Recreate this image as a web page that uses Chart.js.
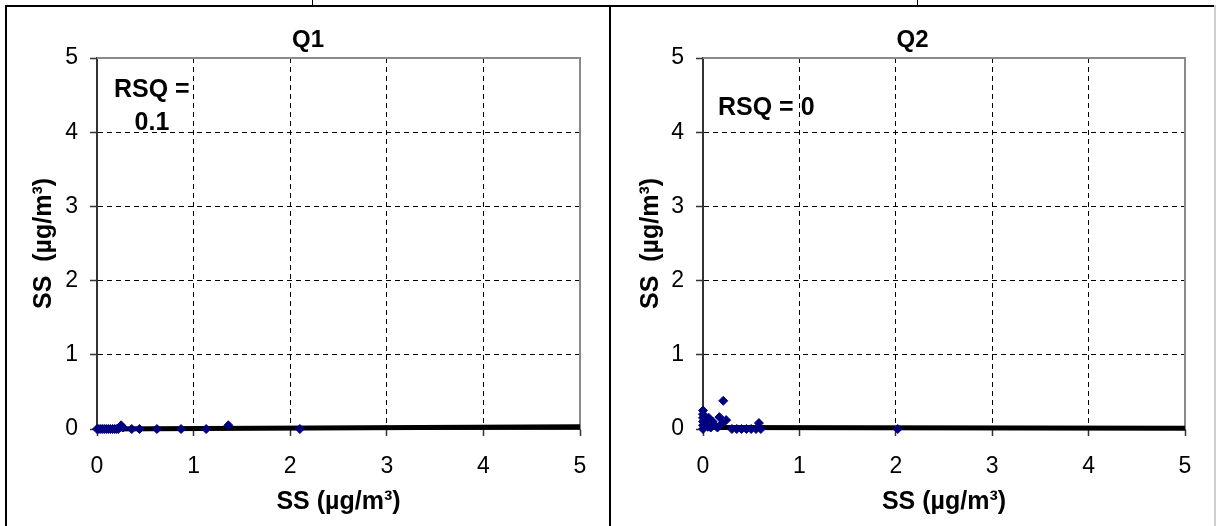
<!DOCTYPE html>
<html><head><meta charset="utf-8">
<script src="https://cdn.jsdelivr.net/npm/chart.js@4/dist/chart.umd.min.js"></script>
<style>
html,body{margin:0;padding:0;background:#fff;width:1216px;height:526px;overflow:hidden;position:relative}
.ln{position:absolute;background:#000}
canvas{position:absolute}
</style></head><body>
<div class="ln" style="left:5px;top:5px;width:1211px;height:2px"></div>
<div class="ln" style="left:5px;top:5px;width:2px;height:521px"></div>
<div class="ln" style="left:609px;top:5px;width:2px;height:521px"></div>
<div class="ln" style="left:1214px;top:5px;width:2px;height:521px;background:#cfcfcf"></div>
<div class="ln" style="left:312px;top:0px;width:1px;height:6px"></div>
<div class="ln" style="left:917px;top:0px;width:1px;height:6px"></div>
<canvas id="c1" width="602" height="519" style="left:7px;top:7px"></canvas>
<canvas id="c2" width="603" height="519" style="left:611px;top:7px"></canvas>
<script>
// ---- data ----
const tickValues = [0, 1, 2, 3, 4, 5];
const panelTitles = ['Q1', 'Q2'];
const xAxisTitle = 'SS (µg/m³)';
const yAxisTitle = 'SS  (µg/m³)';
const rsqQ1 = ['RSQ =', '0.1'];
const rsqQ2 = ['RSQ = 0'];

const q1X = [0, 0.02, 0.04, 0.06, 0.08, 0.1, 0.12, 0.14, 0.16, 0.18, 0.2, 0.22, 0.25, 0.27, 0.36, 0.44, 0.62, 0.87, 1.13, 1.36, 2.10];
const q1Y = [0, 0, 0, 0, 0, 0, 0, 0, 0, 0, 0, 0, 0.05, 0.02, 0, 0, 0, 0, 0, 0.05, 0];
const q1TrendX = [0, 5];
const q1TrendY = [0, 0.03];

const q2X = [0, 0, 0, 0, 0, 0, 0.02, 0.03, 0.05, 0.06, 0.08, 0.1, 0.12, 0.15, 0.17, 0.2, 0.21, 0.24, 0.3, 0.35, 0.4, 0.45, 0.5, 0.55, 0.58, 0.6, 2.02];
const q2Y = [0.25, 0.2, 0.15, 0.1, 0.05, 0, 0.08, 0.12, 0.03, 0.15, 0.02, 0.1, 0.05, 0.02, 0.16, 0.08, 0.38, 0.12, 0, 0, 0, 0, 0, 0, 0.08, 0, 0];
const q2TrendX = [0, 5];
const q2TrendY = [0.02, 0.01];

// ---- helpers ----
const FONT = '"Liberation Sans", Arial, sans-serif';
function pts(xs, ys) { return xs.map((x, i) => ({x: x, y: ys[i]})); }

const framePlugin = {
  id: 'frame',
  beforeDatasetsDraw(chart) {
    const a = chart.chartArea, ctx = chart.ctx;
    ctx.save();
    ctx.strokeStyle = '#8a8a8a';
    ctx.lineWidth = 2;
    ctx.beginPath();
    ctx.moveTo(a.left, a.top);
    ctx.lineTo(a.right, a.top);
    ctx.lineTo(a.right, a.bottom);
    ctx.stroke();
    ctx.restore();
  }
};

const textPlugin = {
  id: 'texts',
  afterDraw(chart, args, opts) {
    const ctx = chart.ctx;
    ctx.save();
    ctx.fillStyle = '#000';
    ctx.textBaseline = 'middle';
    ctx.font = 'bold 24px ' + FONT;
    ctx.textAlign = 'center';
    ctx.fillText(opts.title, chart.width / 2, 33);
    ctx.font = 'bold 25px ' + FONT;
    opts.rsq.forEach(r => {
      ctx.textAlign = r.align;
      ctx.fillText(r.text, r.x, r.y);
    });
    ctx.restore();
  }
};

function makeChart(id, title, sx, sy, tx, ty, yWidth, rightPad, yTitlePad, rsq) {
  const gridColor = c => (c.tick && (c.tick.value === 0 || c.tick.value === 5)) ? 'rgba(0,0,0,0)' : '#000';
  return new Chart(document.getElementById(id), {
    type: 'scatter',
    data: {
      datasets: [
        {data: pts(sx, sy), pointStyle: 'rectRot', pointRadius: 4.5, backgroundColor: '#000080', borderColor: '#000080', borderWidth: 1, clip: false},
        {data: pts(tx, ty), showLine: true, pointRadius: 0, borderColor: '#000', borderWidth: 5, clip: false}
      ]
    },
    options: {
      responsive: false, animation: false, devicePixelRatio: 1,
      layout: {padding: {top: 51, right: rightPad, bottom: 0, left: 0}},
      plugins: {legend: {display: false}, tooltip: {enabled: false}, texts: {title: title, rsq: rsq}},
      scales: {
        x: {
          type: 'linear', min: 0, max: 5,
          afterBuildTicks: s => { s.ticks = tickValues.map(v => ({value: v})); },
          afterFit: s => { s.height = 97; },
          ticks: {color: '#000', padding: 17, font: {family: FONT, size: 23}},
          grid: {color: gridColor, lineWidth: 1, tickColor: '#333', tickLength: 7, tickWidth: 1.5},
          border: {display: true, color: '#333', width: 2, dash: [5, 4]},
          title: {display: true, text: xAxisTitle, color: '#000', font: {family: FONT, size: 25, weight: 'bold'}, padding: {top: 0, bottom: 9}}
        },
        y: {
          type: 'linear', min: 0, max: 5,
          afterBuildTicks: s => { s.ticks = tickValues.map(v => ({value: v})); },
          afterFit: s => { s.width = yWidth; },
          ticks: {color: '#000', padding: 12, font: {family: FONT, size: 23}},
          grid: {color: gridColor, lineWidth: 1, tickColor: '#333', tickLength: 7, tickWidth: 1.5},
          border: {display: true, color: '#333', width: 2, dash: [5, 4]},
          title: {display: true, text: yAxisTitle, color: '#000', font: {family: FONT, size: 25, weight: 'bold'}, padding: {top: yTitlePad, bottom: 0}}
        }
      }
    },
    plugins: [framePlugin, textPlugin]
  });
}

makeChart('c1', panelTitles[0], q1X, q1Y, q1TrendX, q1TrendY, 90, 29, 22,
  [{text: rsqQ1[0], x: 107, y: 83, align: 'left'}, {text: rsqQ1[1], x: 145, y: 116, align: 'center'}]);
makeChart('c2', panelTitles[1], q2X, q2Y, q2TrendX, q2TrendY, 92, 29, 25,
  [{text: rsqQ2[0], x: 107, y: 101, align: 'left'}]);
</script>
</body></html>
